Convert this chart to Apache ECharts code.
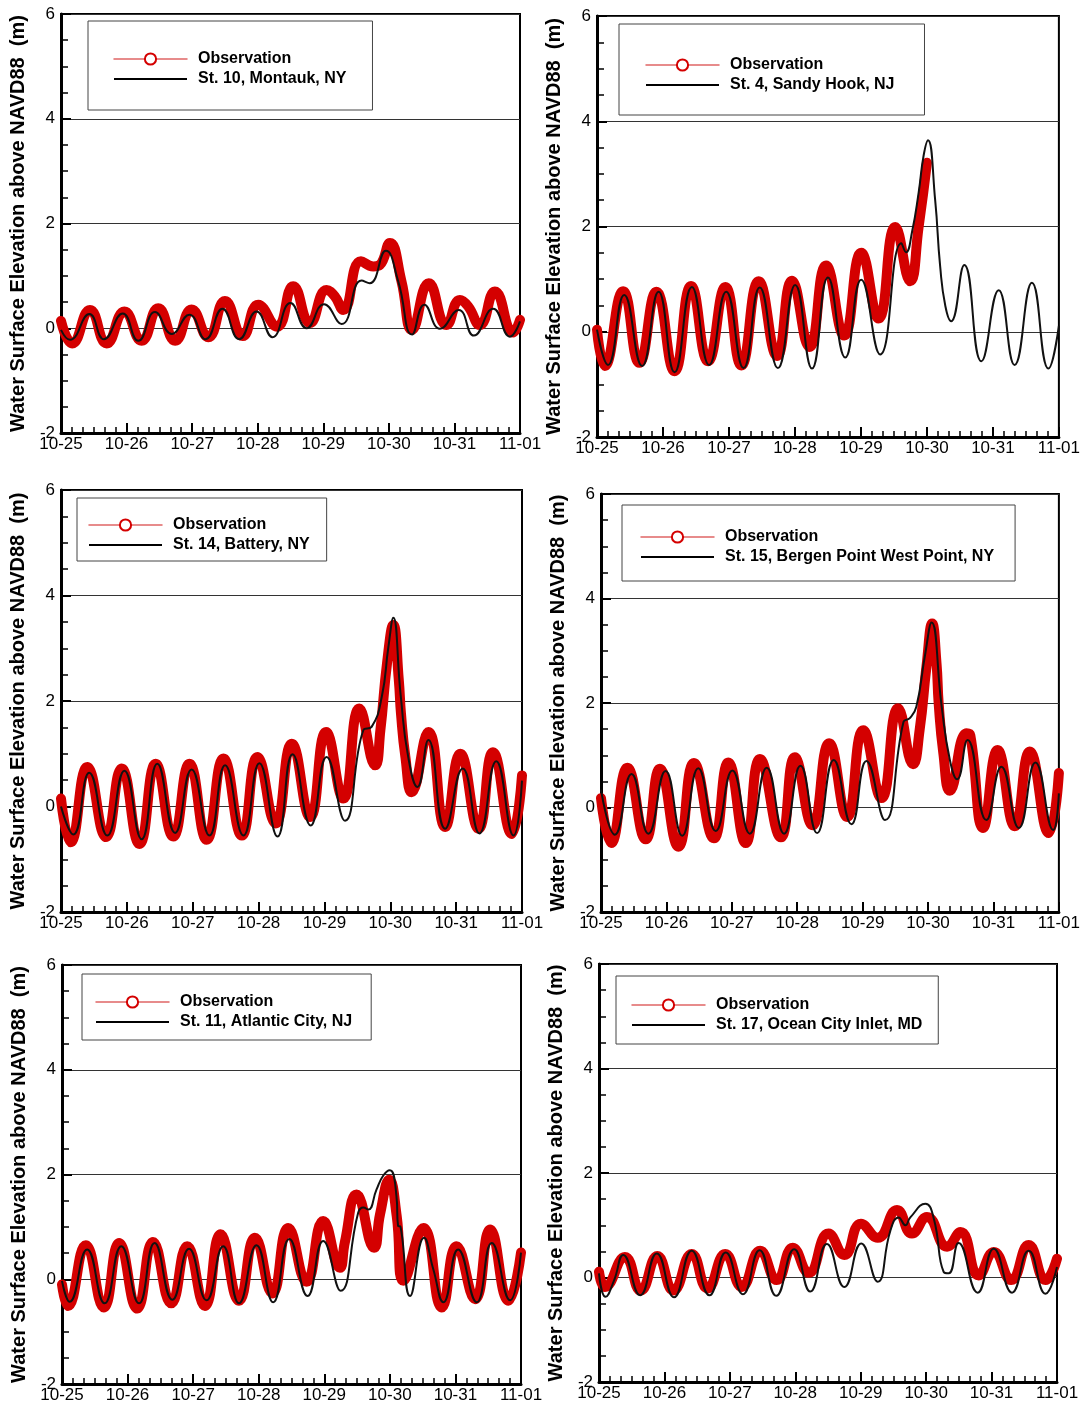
<!DOCTYPE html>
<html><head><meta charset="utf-8">
<script src="https://cdn.jsdelivr.net/npm/echarts@6/dist/echarts.min.js"></script>
<style>html,body{margin:0;padding:0;background:#fff}#c{width:1083px;height:1406px}</style>
</head><body><div id="c"></div>
<script>
// ---- tick labels / categories ----
const dayLabels = ['10-25','10-26','10-27','10-28','10-29','10-30','10-31','11-01'];
const obsName = 'Observation';
const stationNames = ['St. 10, Montauk, NY','St. 4, Sandy Hook, NJ','St. 14, Battery, NY','St. 15, Bergen Point West Point, NY','St. 11, Atlantic City, NJ','St. 17, Ocean City Inlet, MD'];
const yTitle = 'Water Surface Elevation above NAVD88  (m)';

// ---- series values: [hours since 10-25 00:00, elevation m] ----
const montaukObs = [[0,0.14],[4.1,-0.29],[10.6,0.35],[16.7,-0.29],[23.2,0.32],[29.5,-0.24],[35.6,0.38],[41.8,-0.24],[47.8,0.36],[53.9,-0.17],[60.0,0.52],[66.5,-0.15],[72.2,0.45],[79.0,0.03],[85.0,0.80],[91.1,0.10],[97.2,0.73],[100.2,0.61],[103.3,0.35],[109.8,1.28],[114.3,1.18],[116.7,1.21],[120.4,1.63],[124.6,0.9],[128.5,-0.03],[134.6,0.86],[141.1,0.06],[146.0,0.54],[149.0,0.42],[153.3,0.06],[158.8,0.70],[165.5,-0.08],[168,0.16]];
const montaukModel = [[0,-0.03],[3.3,-0.22],[10.4,0.27],[15.7,-0.21],[22.6,0.28],[28.3,-0.24],[34.4,0.31],[40.5,-0.11],[47.0,0.26],[52.9,-0.21],[59.1,0.37],[65.2,-0.21],[71.6,0.32],[77.4,-0.17],[84.0,0.48],[89.9,0.0],[96.3,0.46],[102.7,0.08],[110.0,0.91],[113.0,0.86],[118.9,1.48],[123.4,0.9],[128.5,-0.12],[133.0,0.45],[138.7,-0.01],[145.6,0.35],[151.1,-0.14],[158.2,0.37],[164.3,-0.16],[168,0.13]];

const sandyObs = [[0,0.04],[2.8,-0.65],[9.5,0.77],[15.4,-0.59],[21.6,0.76],[28.2,-0.75],[34.2,0.87],[40.4,-0.56],[46.7,0.85],[52.5,-0.64],[58.8,0.96],[65.5,-0.46],[70.9,0.97],[77.3,-0.29],[83.3,1.26],[89.9,-0.07],[96.1,1.50],[102.4,0.25],[108.5,1.99],[113.9,0.96],[117.0,2.0],[120.0,3.21]];
const sandyModel = [[0,0.04],[4.0,-0.63],[9.9,0.70],[16.4,-0.65],[22.4,0.76],[28.2,-0.77],[34.5,0.85],[40.8,-0.63],[47.0,0.76],[53.3,-0.69],[59.2,0.84],[65.8,-0.69],[72.1,0.89],[78.2,-0.70],[84.0,1.03],[90.3,-0.49],[96.1,0.99],[103.0,-0.43],[110.7,1.68],[112.4,1.51],[114.6,1.9],[117.0,2.65],[118.8,3.35],[120.4,3.64],[123.0,2.5],[124.8,1.25],[126.7,0.49],[128.8,0.20],[133.6,1.27],[139.8,-0.56],[146.1,0.79],[151.9,-0.63],[158.2,0.93],[164.2,-0.70],[168,0.11]];

const batteryObs = [[0,0.15],[3.5,-0.68],[9.6,0.75],[16.4,-0.58],[22.1,0.72],[28.6,-0.71],[34.5,0.81],[40.9,-0.57],[46.8,0.81],[53.1,-0.63],[59.2,0.91],[65.9,-0.55],[71.6,0.94],[78.2,-0.32],[84.1,1.19],[90.8,-0.20],[96.6,1.41],[102.9,0.15],[108.7,1.86],[114.5,0.78],[116.4,1.45],[118.8,2.71],[121.1,3.44],[123.1,2.4],[123.9,1.76],[125.5,0.94],[127.8,0.27],[133.9,1.41],[140.0,-0.39],[145.5,1.00],[152.2,-0.42],[157.4,1.03],[164.3,-0.52],[168,0.59]];
const batteryModel = [[0,0.0],[4.5,-0.53],[10.3,0.64],[16.9,-0.55],[23.1,0.68],[29.4,-0.62],[35.1,0.81],[41.6,-0.50],[47.6,0.70],[54.1,-0.55],[59.8,0.78],[66.5,-0.55],[72.3,0.82],[78.9,-0.57],[84.4,0.99],[91.0,-0.36],[96.8,0.94],[103.5,-0.27],[110.2,1.45],[113.2,1.51],[116.9,2.08],[119.3,3.02],[121.1,3.58],[123.8,2.1],[126.5,0.95],[129.9,0.37],[133.9,1.26],[140.0,-0.42],[146.4,0.72],[152.5,-0.51],[158.6,0.86],[164.9,-0.55],[168,0.49]];

const bergenObs = [[0,0.18],[3.7,-0.68],[9.7,0.76],[16.4,-0.61],[21.6,0.74],[28.4,-0.75],[34.1,0.85],[41.4,-0.59],[46.7,0.86],[53.1,-0.68],[58.3,0.93],[66.0,-0.57],[71.1,0.96],[77.6,-0.34],[83.7,1.23],[90.3,-0.18],[96.2,1.48],[102.9,0.18],[109.0,1.90],[114.5,0.83],[116.9,1.48],[119.4,2.69],[121.5,3.52],[123.1,2.76],[123.9,1.99],[125.6,1.04],[128.0,0.32],[134.1,1.42],[135.5,1.38],[140.2,-0.39],[145.5,1.10],[151.8,-0.36],[157.3,1.07],[164.3,-0.49],[168,0.66]];
const bergenModel = [[0,0.34],[5.1,-0.52],[11.2,0.64],[17.4,-0.50],[23.7,0.70],[29.8,-0.54],[35.7,0.75],[42.1,-0.45],[48.2,0.71],[54.6,-0.50],[60.8,0.76],[67.2,-0.50],[73.2,0.80],[79.3,-0.49],[85.4,0.91],[91.9,-0.32],[97.4,0.89],[104.2,-0.24],[111.0,1.64],[113.3,1.71],[115.7,1.93],[118.8,2.89],[121.3,3.54],[125.0,1.93],[128.0,0.91],[130.7,0.54],[134.5,1.29],[141.4,-0.24],[146.9,0.78],[153.3,-0.39],[159.4,0.86],[165.9,-0.43],[168,0.27]];

const atlanticObs = [[0,-0.10],[2.2,-0.51],[8.7,0.65],[15.3,-0.54],[20.9,0.69],[27.5,-0.56],[33.3,0.71],[40.0,-0.46],[45.8,0.63],[52.3,-0.51],[58.0,0.86],[64.8,-0.41],[70.6,0.79],[77.0,-0.27],[82.8,0.98],[89.5,-0.05],[95.6,1.11],[101.7,0.22],[103.5,0.70],[107.8,1.62],[114.2,0.60],[116.4,1.24],[119.8,1.90],[122.5,1.21],[125.0,-0.03],[132.3,0.98],[139.0,-0.54],[144.4,0.63],[151.2,-0.38],[156.7,0.95],[163.4,-0.41],[168,0.51]];
const atlanticModel = [[0,-0.03],[2.8,-0.43],[9.2,0.57],[15.6,-0.46],[21.7,0.63],[28.2,-0.46],[33.9,0.69],[40.4,-0.39],[46.5,0.58],[52.9,-0.40],[59.0,0.63],[64.8,-0.46],[71.2,0.65],[77.3,-0.44],[83.2,0.77],[89.9,-0.32],[95.6,0.73],[102.0,-0.22],[108.4,1.27],[110.3,1.37],[112.1,1.33],[115.1,1.71],[117.6,1.98],[120.0,2.08],[122.4,1.59],[123.0,1.02],[123.9,1.0],[127.4,-0.32],[132.5,0.79],[135.9,0.19],[139.6,-0.44],[145.0,0.57],[151.8,-0.44],[157.3,0.69],[164.0,-0.40],[168,0.51]];

const oceanObs = [[0,0.11],[2.2,-0.18],[9.5,0.39],[15.3,-0.25],[21.4,0.41],[27.3,-0.25],[34.0,0.45],[39.8,-0.21],[46.3,0.45],[52.4,-0.18],[59.1,0.51],[65.2,-0.05],[71.1,0.57],[76.9,0.09],[84.2,0.84],[90.0,0.43],[96.1,1.03],[102.2,0.76],[109.3,1.29],[114.8,0.84],[120.3,1.16],[127.7,0.59],[132.6,0.87],[139.3,0.04],[144.8,0.49],[151.2,-0.05],[157.6,0.62],[163.8,-0.05],[168,0.36]];
const oceanModel = [[0,0.08],[2.4,-0.37],[5.5,-0.06],[8.9,0.43],[15.1,-0.34],[21.2,0.46],[27.5,-0.38],[34.0,0.51],[40.5,-0.34],[46.5,0.48],[52.8,-0.32],[58.9,0.52],[65.0,-0.35],[71.6,0.54],[77.5,-0.27],[83.6,0.64],[90.0,-0.18],[96.2,0.65],[102.2,-0.08],[106.9,0.90],[109.9,1.15],[112.4,1.0],[114.2,1.15],[119.7,1.41],[122.8,1.13],[126.4,0.11],[128.3,0.08],[131.9,0.66],[138.9,-0.29],[144.8,0.55],[151.5,-0.29],[157.6,0.51],[163.8,-0.31],[168,0.20]];

const obsSeries = [montaukObs, sandyObs, batteryObs, bergenObs, atlanticObs, oceanObs];
const modelSeries = [montaukModel, sandyModel, batteryModel, bergenModel, atlanticModel, oceanModel];

// ---- layout (pixels) ----
const layout = [
  {grid:{left:61,top:14,width:459,height:419}, lg:{left:88,top:21,padding:[30,26,23,25]}},
  {grid:{left:597,top:16,width:463,height:421}, lg:{left:619,top:24,padding:[33,30,22,26]}},
  {grid:{left:61,top:490,width:461,height:422}, lg:{left:77,top:498,padding:[19,17,8,11]}},
  {grid:{left:601,top:494,width:458,height:418}, lg:{left:622,top:505,padding:[24,21,16,18]}},
  {grid:{left:62,top:965,width:459,height:419}, lg:{left:82,top:974,padding:[20,19,10,13]}},
  {grid:{left:599,top:964,width:458,height:418}, lg:{left:616,top:976,padding:[21,16,11,15]}}
];

const FONT = '"Liberation Sans", Arial, sans-serif';
const RED = '#d40000';
const grids = [], xAxes = [], yAxes = [], series = [], legends = [];
layout.forEach((p, i) => {
  grids.push(Object.assign({show:true, borderColor:'#000', borderWidth:2, backgroundColor:'transparent'}, p.grid));
  xAxes.push({
    gridIndex:i, type:'value', min:0, max:168, interval:24,
    axisLine:{show:true, onZero:false, lineStyle:{color:'#000', width:3}},
    axisTick:{show:true, inside:true, length:10, lineStyle:{color:'#000', width:2}},
    minorTick:{show:true, splitNumber:6, length:6, lineStyle:{color:'#000', width:1.5}},
    axisLabel:{formatter:v => dayLabels[Math.round(v/24)], fontSize:17, fontFamily:FONT, color:'#000', margin:3},
    splitLine:{show:false}
  });
  yAxes.push({
    gridIndex:i, type:'value', min:-2, max:6, interval:2,
    axisLine:{show:true, onZero:false, lineStyle:{color:'#000', width:3}},
    axisTick:{show:true, inside:true, length:10, lineStyle:{color:'#000', width:2}},
    minorTick:{show:true, splitNumber:4, length:7, lineStyle:{color:'#000', width:1.5}},
    splitLine:{show:true, lineStyle:{color:'#333', width:1}},
    axisLabel:{fontSize:17, fontFamily:FONT, color:'#000', margin:6},
    name:yTitle, nameLocation:'middle', nameGap:33,
    nameTextStyle:{fontSize:20, fontWeight:'bold', fontFamily:FONT, color:'#000'}
  });
  series.push({
    type:'line', name:obsName, xAxisIndex:i, yAxisIndex:i, data:obsSeries[i],
    smooth:true, symbol:'emptyCircle', showSymbol:false, silent:true, z:2,
    lineStyle:{color:RED, width:10, cap:'round', join:'round'}, itemStyle:{color:RED}
  });
  series.push({
    type:'line', name:stationNames[i], xAxisIndex:i, yAxisIndex:i, data:modelSeries[i],
    smooth:true, symbol:'none', silent:true, z:3,
    lineStyle:{color:'#111', width:2}, itemStyle:{color:'#111'}
  });
  legends.push({
    orient:'vertical', left:p.lg.left, top:p.lg.top, padding:p.lg.padding,
    itemWidth:73, itemHeight:14, itemGap:4, selectedMode:false,
    borderColor:'#444', borderWidth:1, backgroundColor:'#fff',
    textStyle:{fontFamily:FONT, fontWeight:'bold', fontSize:16, color:'#000', padding:[0,0,0,6]},
    data:[
      {name:obsName, lineStyle:{color:'#e06666', width:1.5}, itemStyle:{color:RED, borderColor:RED}},
      {name:stationNames[i], lineStyle:{color:'#000', width:2}, itemStyle:{opacity:0}}
    ]
  });
});

const chart = echarts.init(document.getElementById('c'), null, {renderer:'canvas'});
chart.setOption({
  animation:false, backgroundColor:'#fff',
  grid:grids, xAxis:xAxes, yAxis:yAxes, series:series, legend:legends
});
</script></body></html>
